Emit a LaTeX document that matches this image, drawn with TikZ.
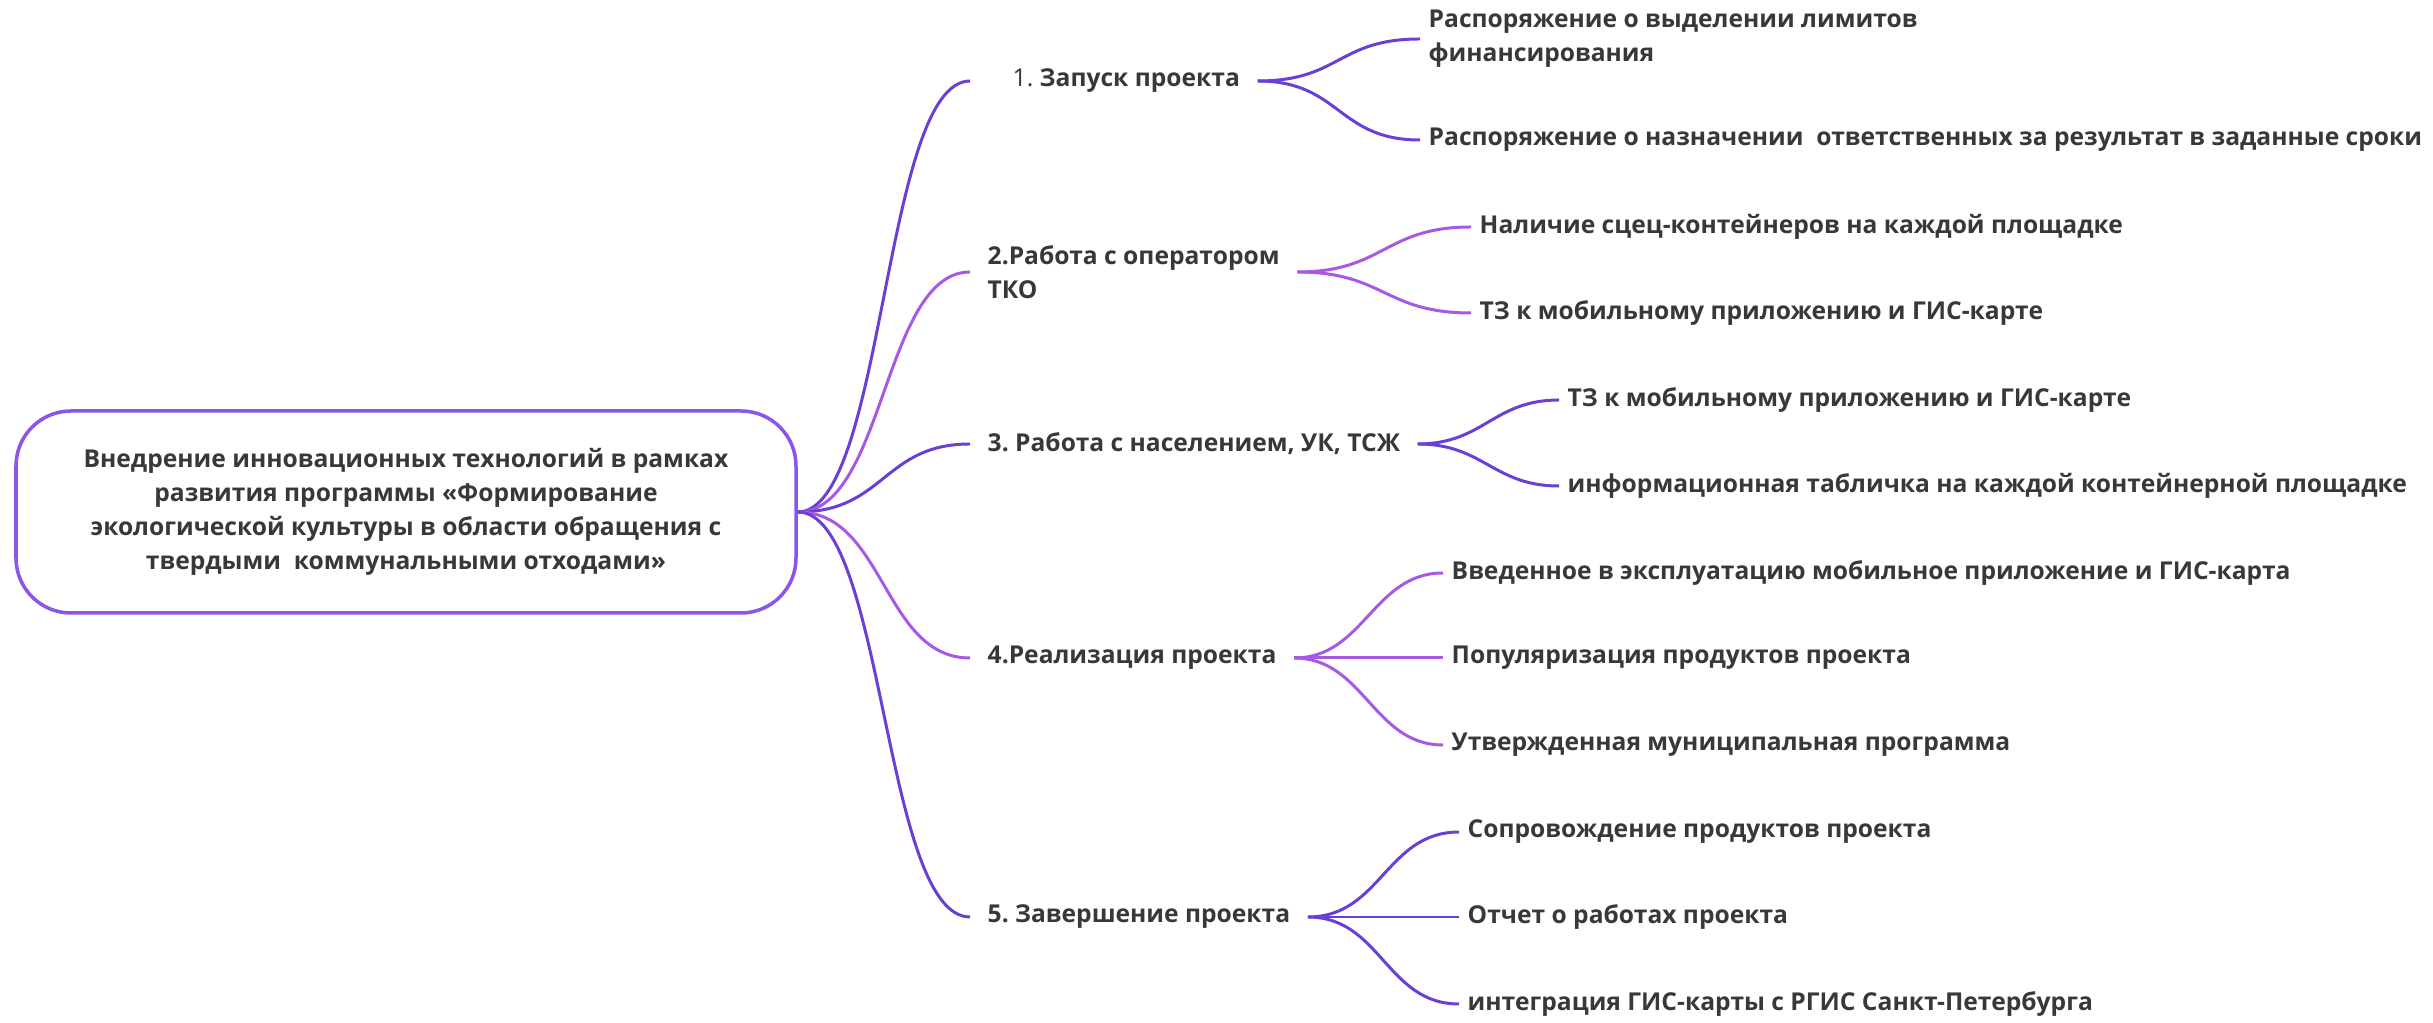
\documentclass[tikz,border=0pt]{standalone}
\usepackage{fontspec}
\setmainfont{Open Sans}
\definecolor{txt}{HTML}{383838}
\definecolor{bluev}{HTML}{6A3FD6}
\definecolor{pinkv}{HTML}{A858E6}
\definecolor{frame}{HTML}{8A55E8}

\begin{document}
\frenchspacing
\begin{tikzpicture}[
    every node/.style={text=txt, font=\bfseries\fontsize{7}{9.7}\selectfont},
    root/.style={draw=frame, line width=1pt, rounded corners=0.55cm,
      minimum width=7.8cm, minimum height=2.02cm, align=center},
    branch/.style={anchor=west, align=left, inner xsep=0.17cm, inner ysep=1pt},
    leaf/.style={anchor=west, align=left, inner xsep=0.08cm, inner ysep=1pt},
    trunk/.style={line width=0.85pt},
  ]
  \useasboundingbox (0,0) rectangle (24.33,-10.23);

  % central topic
  \node (root) [root] at (4.06,-5.12)
    {Внедрение инновационных технологий в рамках\\
     развития программы «Формирование\\
     экологической культуры в области обращения с\\
     твердыми~ коммунальными отходами»};

  % project stages
  \node (b1) [branch] at (9.70,-0.81) {\hspace*{0.25cm}{\mdseries 1.} Запуск проекта};
  \node (b2) [branch] at (9.70,-2.72) {2.Работа с оператором\\ТКО};
  \node (b3) [branch] at (9.70,-4.44) {3. Работа с населением, УК, ТСЖ};
  \node (b4) [branch] at (9.70,-6.58) {4.Реализация проекта};
  \node (b5) [branch] at (9.70,-9.17) {5. Завершение проекта};

  % results of each stage
  \node (l1a) [leaf] at (14.20,-0.39) {Распоряжение о выделении лимитов\\финансирования};
  \node (l1b) [leaf] at (14.20,-1.40) {Распоряжение о назначении~ ответственных за результат в заданные сроки};
  \node (l2a) [leaf] at (14.71,-2.27) {Наличие сцец-контейнеров на каждой площадке};
  \node (l2b) [leaf] at (14.71,-3.13) {ТЗ к мобильному приложению и ГИС-карте};
  \node (l3a) [leaf] at (15.59,-4.00) {ТЗ к мобильному приложению и ГИС-карте};
  \node (l3b) [leaf] at (15.59,-4.86) {информационная табличка на каждой контейнерной площадке};
  \node (l4a) [leaf] at (14.43,-5.73) {Введенное в эксплуатацию мобильное приложение и ГИС-карта};
  \node (l4b) [leaf] at (14.43,-6.58) {Популяризация продуктов проекта};
  \node (l4c) [leaf] at (14.43,-7.45) {Утвержденная муниципальная программа};
  \node (l5a) [leaf] at (14.59,-8.32) {Сопровождение продуктов проекта};
  \node (l5b) [leaf] at (14.59,-9.17) {Отчет о работах проекта};
  \node (l5c) [leaf] at (14.59,-10.04) {интеграция ГИС-карты с РГИС Санкт-Петербурга};

  \foreach \b/\c in {b1/bluev, b2/pinkv, b3/bluev, b4/pinkv, b5/bluev}
    \draw[trunk, \c] (root.east) .. controls +(0.87,0) and +(-0.87,0) .. (\b.west);

  \foreach \l in {l1a, l1b}
    \draw[trunk, bluev] (b1.east) .. controls +(0.83,0) and +(-0.83,0) .. (\l.west);
  \foreach \l in {l2a, l2b}
    \draw[trunk, pinkv] (b2.east) .. controls +(0.87,0) and +(-0.87,0) .. (\l.west);
  \foreach \l in {l3a, l3b}
    \draw[trunk, bluev] (b3.east) .. controls +(0.66,0) and +(-0.66,0) .. (\l.west);
  \foreach \l in {l4a, l4b, l4c}
    \draw[trunk, pinkv] (b4.east) .. controls +(0.70,0) and +(-0.70,0) .. (\l.west);
  \foreach \l in {l5a, l5b, l5c}
    \draw[trunk, bluev] (b5.east) .. controls +(0.73,0) and +(-0.73,0) .. (\l.west);
\end{tikzpicture}
\end{document}
